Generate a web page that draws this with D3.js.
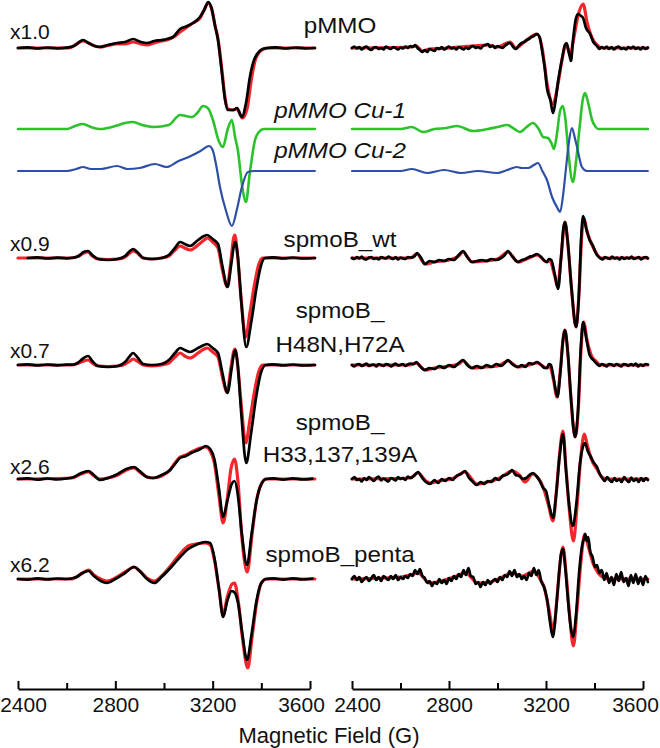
<!DOCTYPE html>
<html><head><meta charset="utf-8">
<script src="https://cdn.jsdelivr.net/npm/d3@7"></script>
<style>
body{margin:0;background:#fff}
svg{display:block}
text{font-family:"Liberation Sans",Arial,Helvetica,sans-serif;fill:#111}
</style>
</head><body>
<svg id="chart" width="660" height="748"></svg>
<script>
// ---------- DATA (field in G, signal in arbitrary units) ----------
const fieldTicks = [2400, 2600, 2800, 3000, 3200, 3400, 3600];
const labelledTicks = [2400, 2800, 3200, 3600];
const rowNames = ["pMMO", "pMMO Cu-1", "pMMO Cu-2", "spmoB_wt", "spmoB_\nH48N,H72A", "spmoB_\nH33,137,139A", "spmoB_penta"];
const scaleFactors = ["x1.0", "", "", "x0.9", "x0.7", "x2.6", "x6.2"];

// pMMO
const pmmoL_exp = [[2400,0],[2440,0.6],[2480,-0.5],[2520,0.5],[2560,-0.4],[2600,0.3],[2630,2],[2667,8],[2690,5],[2715,2],[2737,1],[2770,3],[2807,5],[2840,6],[2873,9],[2905,6],[2930,5],[2960,7],[2990,8],[3012,9],[3037,11],[3066,19],[3095,22],[3119,25],[3148,31],[3165,38],[3182,46],[3195,40],[3210,22],[3222,8],[3238,-25],[3251,-52],[3263,-62],[3284,-62],[3300,-60],[3320,-69],[3337,-55],[3353,-29],[3370,-12],[3386,-5],[3405,-1],[3424,0],[3460,0.6],[3500,-0.5],[3540,0.5],[3580,-0.4],[3620,0]];
const pmmoL_fit = [[2400,0],[2610,0],[2640,4],[2667,7],[2690,5],[2715,2],[2737,1],[2770,2.5],[2807,4],[2840,4],[2873,6],[2905,4],[2930,3],[2960,5],[2990,7],[3012,8],[3040,11],[3066,16],[3095,21],[3119,25],[3148,30],[3165,38],[3182,45],[3195,40],[3210,22],[3222,9],[3238,-22],[3251,-50],[3263,-61],[3284,-62],[3300,-61],[3322,-70],[3342,-60],[3358,-33],[3375,-12],[3392,-4],[3410,-1],[3430,0],[3620,0]];
const pmmoR_exp = [[2400,0],[2410,1.5],[2420,-0.5],[2430,1],[2440,-1.5],[2450,0.5],[2460,1.5],[2470,-1],[2480,-2],[2490,0.5],[2500,1],[2510,-1],[2520,0],[2530,-1.5],[2540,1.5],[2550,0],[2560,-1],[2570,1],[2580,0],[2590,-1.5],[2600,0.5],[2610,-0.5],[2620,1.5],[2630,0],[2640,2],[2650,1],[2660,3],[2670,0],[2680,-2],[2690,-4],[2700,-2],[2710,-4],[2720,-1],[2730,-2],[2740,-3],[2750,0],[2760,-1],[2770,1],[2780,-1.5],[2790,0],[2800,1.5],[2810,-0.5],[2820,0.5],[2830,-1.5],[2840,1],[2850,0],[2860,-1.5],[2870,0.5],[2880,-1],[2890,1],[2900,2],[2910,0],[2920,1],[2930,-0.5],[2940,2],[2950,3],[2960,4],[2970,1],[2980,2.5],[2990,0],[3000,2],[3010,1],[3020,0],[3030,2],[3040,4],[3052,5],[3065,1],[3075,-1],[3090,3],[3100,5],[3110,6],[3120,8],[3130,9],[3140,11],[3150,12],[3163,14],[3175,10],[3184,-3],[3195,-20],[3204,-40],[3218,-52],[3229,-65],[3238,-55],[3250,-33],[3266,-11],[3278,3],[3285,5],[3295,-5],[3303,-13],[3311,7],[3322,28],[3332,34],[3345,32],[3353,30],[3365,20],[3382,14],[3395,6],[3410,2],[3420,-1],[3430,1],[3440,-0.5],[3450,1.5],[3460,-1],[3470,1],[3480,-1.5],[3490,0.5],[3500,1.5],[3510,-1],[3520,0],[3530,-1.5],[3540,1],[3550,-0.5],[3560,1.5],[3570,-1],[3580,0.5],[3590,-1.5],[3600,1],[3610,-1],[3620,0.5]];
const pmmoR_fit = [[2400,0],[2640,1],[2665,2],[2690,-3],[2720,-1],[2800,0],[2960,3],[3000,1],[3052,6],[3075,0],[3110,6],[3163,14],[3184,0],[3204,-35],[3229,-56],[3250,-35],[3266,-12],[3283,4],[3300,-8],[3311,5],[3335,35],[3353,44],[3370,25],[3390,10],[3410,3],[3435,0],[3620,0]];

// simulated components
const cu1L = [[2400,0],[2600,0],[2635,3],[2667,5],[2700,2],[2737,0],[2800,3],[2840,6],[2873,7],[2910,4],[2960,2],[3020,4],[3066,14],[3090,13],[3115,12],[3140,17],[3160,23],[3180,21],[3201,9],[3225,-12],[3242,-18],[3262,0],[3279,9],[3292,-8],[3304,-22],[3320,-55],[3337,-73],[3352,-45],[3374,-11],[3390,-3],[3410,0],[3620,0]];
const cu2L = [[2400,0],[2600,0],[2640,2],[2667,4],[2700,2],[2740,2],[2807,5],[2850,2],[2900,3],[2963,7],[3010,4],[3060,10],[3110,15],[3150,20],[3185,25],[3200,21],[3215,5],[3230,-16],[3255,-40],[3279,-55],[3300,-38],[3320,-16],[3345,-1],[3370,0],[3620,0]];
const cu1R = [[2400,0],[2600,0],[2647,2],[2693,-3],[2740,0],[2790,1],[2833,3],[2899,-2],[2960,0],[3000,2],[3039,4],[3070,0],[3093,-3],[3120,2],[3146,6],[3170,0],[3188,-8],[3208,-9],[3222,-14],[3233,-20],[3245,-5],[3258,18],[3270,23],[3280,10],[3291,-20],[3311,-53],[3325,-30],[3340,5],[3352,30],[3361,36],[3375,25],[3390,9],[3405,2],[3415,0],[3620,0]];
const cu2R = [[2400,0],[2600,0],[2647,2],[2710,-2],[2780,1],[2850,-2],[2920,0],[2998,-2],[3040,1],[3080,4],[3100,3],[3126,3],[3150,6],[3167,8],[3185,0],[3204,-9],[3225,-26],[3245,-36],[3258,-41],[3270,-25],[3283,4],[3295,30],[3307,43],[3320,32],[3328,24],[3348,4],[3369,0],[3620,0]];

// spmoB_wt
const wtL_exp = [[2440,0],[2480,0.6],[2520,-0.5],[2560,0.4],[2600,-0.3],[2630,0.5],[2650,2],[2670,6],[2688,7],[2705,3],[2730,-1],[2770,-2],[2810,-1],[2840,2],[2860,7],[2873,9],[2890,6],[2915,0],[2950,-1],[2990,0],[3020,3],[3045,10],[3066,16],[3085,14],[3107,12],[3140,18],[3165,22],[3177,23],[3200,19],[3222,14],[3240,-8],[3261,-29],[3277,-5],[3288,13],[3293,16],[3303,2],[3318,-45],[3338,-89],[3358,-65],[3380,-30],[3398,-8],[3415,0],[3450,0.6],[3490,-0.5],[3530,0.5],[3570,-0.5],[3620,0]];
const wtL_fit = [[2400,0],[2620,0],[2650,2],[2670,5],[2688,6],[2705,2],[2730,-1],[2770,-1.5],[2810,-1],[2840,1],[2860,5],[2873,7],[2890,5],[2915,0],[2950,-1],[2990,0],[3020,2],[3045,8],[3066,12],[3085,10],[3107,8],[3140,13],[3165,18],[3177,20],[3200,16],[3222,10],[3240,-12],[3259,-28],[3275,-3],[3286,20],[3291,23],[3301,6],[3316,-38],[3336,-79],[3353,-55],[3373,-25],[3390,-6],[3405,0],[3620,0]];
const wtR_exp = [[2400,0],[2410,-1],[2420,1],[2430,-0.5],[2440,1.5],[2450,-1],[2460,-1.5],[2470,0.5],[2480,1],[2490,-1],[2500,0],[2510,-1.5],[2520,1],[2530,0],[2540,-0.5],[2550,1.5],[2560,0],[2570,-1],[2580,1],[2590,-1.5],[2600,0.5],[2610,-0.5],[2620,-1],[2630,1],[2640,0.5],[2655,1],[2668,5],[2685,0],[2701,-6],[2720,-3],[2740,-4],[2760,-2],[2780,-3],[2800,-1],[2820,-2],[2840,3],[2858,7],[2875,1],[2895,-4],[2915,-3],[2935,-2],[2955,-3],[2975,-1],[2995,-2],[3015,0],[3030,3],[3043,7],[3060,2],[3085,-4],[3100,-2],[3115,-1],[3130,1],[3145,2],[3163,4],[3180,1],[3195,-3],[3204,-4],[3212,-1],[3222,-2],[3235,-15],[3250,-31],[3262,0],[3272,30],[3278,36],[3290,15],[3305,-30],[3324,-69],[3335,-40],[3345,20],[3353,42],[3365,30],[3380,18],[3394,12],[3405,5],[3423,0],[3433,-1.5],[3443,1],[3453,0],[3463,-1],[3473,1.5],[3483,-0.5],[3493,0.5],[3503,-1.5],[3513,1],[3523,-1],[3533,0.5],[3543,-0.5],[3553,1.5],[3563,-1],[3573,0],[3583,1],[3593,-1.5],[3603,0.5],[3613,1],[3620,-0.5]];
const wtR_fit = [[2400,0],[2640,0],[2668,4],[2701,-6],[2740,-4],[2800,-2],[2840,2],[2858,6],[2895,-4],[2950,-3],[3000,-1],[3043,6],[3085,-4],[3130,0],[3163,3],[3204,-4],[3215,-2],[3235,-17],[3248,-28],[3262,0],[3278,36],[3290,15],[3305,-30],[3324,-69],[3335,-40],[3348,25],[3356,40],[3370,26],[3390,13],[3405,6],[3425,0],[3620,0]];

// spmoB_H48N,H72A
const h48L_exp = [[2400,0],[2440,0.6],[2480,-0.5],[2520,0.5],[2560,-0.4],[2600,0.3],[2630,0.5],[2650,3],[2670,7],[2688,9],[2705,4],[2730,-1],[2770,-2],[2810,-1],[2840,3],[2860,9],[2873,12],[2890,8],[2915,1],[2950,0],[2990,1],[3020,5],[3045,12],[3066,17],[3085,15],[3107,13],[3140,17],[3165,20],[3177,21],[3200,17],[3222,12],[3240,-8],[3261,-28],[3277,-5],[3288,12],[3293,15],[3303,0],[3318,-50],[3338,-98],[3358,-68],[3380,-30],[3398,-8],[3418,0],[3450,0.6],[3490,-0.5],[3530,0.5],[3570,-0.5],[3620,0]];
const h48L_fit = [[2400,0],[2620,0],[2650,2],[2670,4],[2688,5],[2705,2],[2730,-1],[2770,-1.5],[2810,-1],[2840,1],[2860,4],[2873,6],[2890,4],[2915,0],[2950,-1],[2990,0],[3020,2],[3045,8],[3066,12],[3085,9],[3107,7],[3140,12],[3165,16],[3177,17],[3200,13],[3222,8],[3240,-12],[3259,-27],[3275,-3],[3286,13],[3291,16],[3301,4],[3316,-36],[3336,-78],[3353,-55],[3373,-25],[3390,-6],[3405,0],[3620,0]];
const h48R_exp = [[2400,0],[2410,-1.5],[2420,0.5],[2430,1],[2440,-1],[2450,0],[2460,1.5],[2470,-1],[2480,0],[2490,0.5],[2500,-1.5],[2510,1],[2520,0],[2530,-1],[2540,1],[2550,0.5],[2560,-1.5],[2570,0],[2580,1.5],[2590,-0.5],[2600,0],[2610,1],[2620,-1],[2630,0.5],[2640,1.5],[2655,1],[2665,3],[2680,-1],[2701,-5],[2720,-3],[2740,-4],[2760,-1],[2780,-3],[2800,0],[2820,-2],[2840,2],[2858,5],[2875,0],[2895,-3],[2915,-1],[2935,-3],[2955,0],[2975,-2],[2995,1],[3015,-1],[3030,2],[3043,5],[3060,1],[3085,-2],[3100,0],[3115,-2],[3130,2],[3145,1],[3163,3],[3180,0],[3195,-3],[3204,-3],[3212,1],[3220,0],[3232,-14],[3247,-32],[3260,-5],[3270,25],[3278,35],[3290,12],[3302,-30],[3320,-72],[3332,-45],[3343,15],[3353,43],[3365,28],[3380,10],[3395,5],[3410,1],[3420,-1],[3430,1],[3440,0],[3450,-1.5],[3460,1],[3470,0.5],[3480,-1],[3490,1],[3500,0],[3510,-1.5],[3520,1],[3530,0.5],[3540,-1],[3550,1],[3560,-0.5],[3570,1.5],[3580,-1.5],[3590,0.5],[3600,-1],[3610,1],[3620,0.5]];
const h48R_fit = [[2400,0],[2640,0],[2665,2],[2701,-5],[2740,-3],[2800,-1],[2840,1],[2858,4],[2895,-3],[2950,-2],[3000,-1],[3043,4],[3085,-2],[3130,0],[3163,2],[3204,-3],[3215,-1],[3232,-16],[3245,-32],[3260,-3],[3270,25],[3278,35],[3290,12],[3302,-30],[3320,-72],[3333,-45],[3345,18],[3355,43],[3370,24],[3390,8],[3405,4],[3425,0],[3620,0]];

// spmoB_H33,137,139A
const h33L_exp = [[2400,0],[2440,0.7],[2480,-0.6],[2520,0.5],[2560,-0.5],[2600,0.5],[2630,2],[2660,6],[2690,8],[2712,4],[2737,-1],[2770,1],[2810,5],[2845,10],[2877,12],[2900,8],[2930,2],[2955,1],[2990,4],[3025,9],[3045,15],[3066,21],[3090,23],[3112,26],[3150,30],[3172,33],[3190,30],[3207,20],[3225,-8],[3243,-38],[3260,-22],[3280,-4],[3290,-2],[3303,-15],[3320,-55],[3341,-86],[3360,-55],[3380,-22],[3400,-5],[3420,0],[3450,0.7],[3490,-0.6],[3530,0.6],[3570,-0.5],[3610,0.4]];
const h33L_fit = [[2400,0],[2620,1],[2660,5],[2690,7],[2712,3],[2737,0],[2770,1],[2810,4],[2845,9],[2877,11],[2900,7],[2930,2],[2955,1],[2990,3],[3025,9],[3045,16],[3066,22],[3090,24],[3112,27],[3150,31],[3172,32],[3190,28],[3207,16],[3225,-15],[3243,-44],[3260,-20],[3275,10],[3290,20],[3303,0],[3320,-58],[3342,-93],[3362,-55],[3380,-22],[3400,-5],[3420,0],[3620,0]];
const h33R_exp = [[2400,0],[2410,2],[2420,-1],[2430,0],[2440,-2.5],[2450,1],[2460,-1],[2470,2],[2480,0],[2490,-2],[2500,1],[2510,2.5],[2520,-1.5],[2530,0.5],[2540,-1],[2550,-2.5],[2560,1],[2570,0],[2580,-1.5],[2590,2],[2600,0],[2610,1],[2620,-1],[2630,2.5],[2640,1],[2655,3],[2672,7],[2690,1],[2705,-3],[2722,-5],[2740,-1],[2755,-4],[2770,0],[2785,-2],[2800,1],[2815,-1],[2830,3],[2848,5],[2866,8],[2880,2],[2895,-2],[2915,-6],[2930,-3],[2945,-5],[2960,-2],[2975,-3],[2990,1],[3005,-1],[3020,3],[3035,4],[3048,6],[3060,9],[3075,4],[3090,3],[3105,0],[3118,1],[3132,4],[3146,6],[3160,3],[3175,-2],[3188,-9],[3200,-12],[3212,-25],[3229,-39],[3242,-15],[3255,20],[3270,45],[3282,10],[3295,-25],[3311,-47],[3325,-25],[3340,15],[3353,33],[3361,36],[3372,28],[3385,22],[3398,16],[3410,12],[3422,5],[3432,1],[3442,-2],[3452,2],[3462,-1],[3472,-3],[3482,1],[3492,-2],[3502,0],[3512,-3],[3522,2],[3532,-1],[3542,-3],[3552,1.5],[3562,-2],[3572,0.5],[3582,-3],[3592,1],[3602,-2],[3612,1],[3620,-1]];
const h33R_fit = [[2400,0],[2640,1],[2672,6],[2705,-2],[2722,-4],[2760,-2],[2820,1],[2866,7],[2915,-5],[2960,-3],[3010,1],[3060,8],[3090,4],[3113,-3],[3146,5],[3170,0],[3188,-8],[3210,-26],[3229,-42],[3242,-15],[3256,25],[3270,48],[3282,12],[3296,-30],[3313,-62],[3327,-30],[3342,18],[3358,45],[3372,32],[3390,18],[3410,10],[3430,2],[3450,0],[3620,0]];

// spmoB_penta
const pentaL_exp = [[2400,0],[2440,-0.6],[2480,0.6],[2520,-0.5],[2560,0.5],[2600,0],[2640,2],[2665,6],[2690,8],[2712,3],[2740,-2],[2765,-4],[2800,0],[2840,6],[2877,12],[2900,8],[2930,0],[2960,-4],[2990,2],[3030,12],[3066,22],[3100,30],[3130,34],[3170,37],[3190,36],[3208,20],[3226,-10],[3243,-38],[3260,-22],[3278,-12],[3292,-14],[3305,-25],[3322,-55],[3341,-81],[3360,-55],[3380,-22],[3400,-4],[3420,0],[3450,0.7],[3490,-0.6],[3530,0.6],[3570,-0.5],[3610,0.5]];
const pentaL_fit = [[2400,0],[2620,0],[2640,2],[2665,6],[2690,9],[2712,4],[2740,0],[2765,-2],[2800,1],[2840,7],[2877,12],[2900,8],[2930,1],[2960,-2],[2990,3],[3030,14],[3066,25],[3100,33],[3130,35],[3170,36],[3190,34],[3208,18],[3226,-10],[3243,-36],[3260,-18],[3280,-5],[3290,-4],[3305,-22],[3324,-62],[3344,-89],[3362,-58],[3382,-22],[3400,-4],[3420,0],[3620,0]];
const pentaR_exp = [[2400,0],[2410,3],[2420,-1],[2430,2],[2440,-3],[2450,0],[2460,2],[2470,-2],[2480,1],[2490,4],[2500,-1],[2510,2],[2520,-2],[2530,3],[2540,1],[2550,-1],[2560,3],[2570,0],[2580,4],[2590,-1],[2600,2],[2610,0],[2620,3],[2630,1],[2640,5],[2650,3],[2660,9],[2670,5],[2680,10],[2690,3],[2700,1],[2710,-4],[2720,-2],[2730,-7],[2740,-3],[2750,-5],[2760,0],[2770,-4],[2780,-1],[2790,-5],[2800,1],[2810,-2],[2820,3],[2830,0],[2840,5],[2850,2],[2860,9],[2870,4],[2880,11],[2890,3],[2900,2],[2910,-5],[2920,-3],[2930,-8],[2940,-3],[2950,-6],[2960,-1],[2970,-5],[2980,-2],[2990,0],[3000,-3],[3010,2],[3020,-1],[3030,4],[3040,2],[3050,8],[3060,3],[3070,9],[3080,2],[3090,5],[3100,0],[3110,3],[3120,-1],[3130,6],[3140,3],[3150,11],[3160,4],[3170,9],[3180,-2],[3192,-8],[3204,-20],[3216,-42],[3228,-58],[3240,-35],[3252,0],[3262,25],[3270,30],[3280,10],[3292,-25],[3303,-50],[3312,-58],[3324,-35],[3336,5],[3348,32],[3356,40],[3362,45],[3368,38],[3374,42],[3382,28],[3392,22],[3402,12],[3410,14],[3420,6],[3430,9],[3440,-1],[3450,6],[3460,-4],[3470,2],[3480,-6],[3490,5],[3500,-2],[3510,7],[3520,-3],[3530,1],[3540,-7],[3550,4],[3560,-4],[3570,5],[3580,-5],[3590,2],[3600,-6],[3610,3],[3620,-3]];
const pentaR_fit = [[2400,0],[2600,2],[2640,4],[2672,6],[2720,-4],[2770,-2],[2820,2],[2866,6],[2920,-4],[2970,-3],[3020,2],[3060,6],[3100,3],[3150,8],[3175,0],[3192,-8],[3212,-30],[3230,-52],[3245,-20],[3258,15],[3270,32],[3283,5],[3297,-35],[3313,-67],[3328,-30],[3343,15],[3360,45],[3375,32],[3395,15],[3415,6],[3440,1],[3460,0],[3620,0]];

// ---------- LAYOUT ----------
const W = 660, H = 748;
const svg = d3.select("#chart");
svg.append("rect").attr("width", W).attr("height", H).attr("fill", "#fff");

const xL = d3.scaleLinear().domain([2400, 3600]).range([18, 310]);
const xR = d3.scaleLinear().domain([2400, 3600]).range([352, 643]);
const baselines = [48, 129, 171, 258, 365, 479, 579];

const COL = {exp: "#000000", fit: "#f2262b", cu1: "#2cc22c", cu2: "#2e4fa8"};
const WID = {exp: 2.7, fit: 3.2, cu1: 2.6, cu2: 2.2};

const traces = [
  {row: 0, kind: "fit", L: pmmoL_fit, R: pmmoR_fit},
  {row: 0, kind: "exp", L: pmmoL_exp, R: pmmoR_exp},
  {row: 1, kind: "cu1", L: cu1L, R: cu1R},
  {row: 2, kind: "cu2", L: cu2L, R: cu2R},
  {row: 3, kind: "fit", L: wtL_fit, R: wtR_fit},
  {row: 3, kind: "exp", L: wtL_exp, R: wtR_exp},
  {row: 4, kind: "fit", L: h48L_fit, R: h48R_fit},
  {row: 4, kind: "exp", L: h48L_exp, R: h48R_exp},
  {row: 5, kind: "fit", L: h33L_fit, R: h33R_fit},
  {row: 5, kind: "exp", L: h33L_exp, R: h33R_exp},
  {row: 6, kind: "fit", L: pentaL_fit, R: pentaR_fit},
  {row: 6, kind: "exp", L: pentaL_exp, R: pentaR_exp}
];

const gTr = svg.append("g");
traces.forEach(t => {
  const b = baselines[t.row];
  const y = d3.scaleLinear().domain([-100, 100]).range([b + 100, b - 100]);
  [[t.L, xL], [t.R, xR]].forEach(([data, x]) => {
    const line = d3.line().x(d => x(d[0])).y(d => y(d[1])).curve(d3.curveMonotoneX);
    gTr.append("path").attr("d", line(data))
      .attr("fill", "none").attr("stroke", COL[t.kind]).attr("stroke-width", WID[t.kind])
      .attr("stroke-linejoin", "round").attr("stroke-linecap", "round");
  });
});

// scale-factor labels
const labelBase = [39, 0, 0, 251, 358, 474, 572];
scaleFactors.forEach((s, i) => {
  if (!s) return;
  svg.append("text").attr("x", 10).attr("y", labelBase[i])
    .attr("font-size", 21).text(s);
});

// row names
const nameBase = [[33], [118], [158], [247], [318, 352], [430, 462], [562]];
rowNames.forEach((n, i) => {
  const parts = n.split("\n");
  parts.forEach((p, j) => {
    const g = svg.append("g").attr("transform", `translate(340,${nameBase[i][j]}) scale(1.1,1)`);
    g.append("text").attr("text-anchor", "middle").attr("font-size", 22)
      .attr("font-style", (i === 1 || i === 2) ? "italic" : "normal").text(p);
  });
});

// axes
function drawAxis(x, shiftFirst, shiftLast) {
  const ax = d3.axisBottom(x).tickValues(fieldTicks)
    .tickSizeInner(-7).tickSizeOuter(0).tickPadding(8)
    .tickFormat(d => labelledTicks.includes(d) ? d : "");
  const g = svg.append("g").attr("transform", "translate(0,689)").call(ax);
  g.select(".domain").attr("stroke", "#000").attr("stroke-width", 2);
  g.selectAll(".tick line").attr("stroke", "#000").attr("stroke-width", 2)
    .attr("y2", d => labelledTicks.includes(d) ? -8 : -6);
  g.selectAll(".tick text").attr("font-size", 21).attr("fill", "#111")
    .attr("font-family", '"Liberation Sans",Arial,sans-serif')
    .attr("x", d => d === 2400 ? shiftFirst : (d === 3600 ? shiftLast : 0));
}
drawAxis(xL, 5, -9);
drawAxis(xR, 5, -8);

svg.append("text").attr("x", 329).attr("y", 743).attr("text-anchor", "middle")
  .attr("font-size", 22).text("Magnetic Field (G)");
</script>
</body></html>
